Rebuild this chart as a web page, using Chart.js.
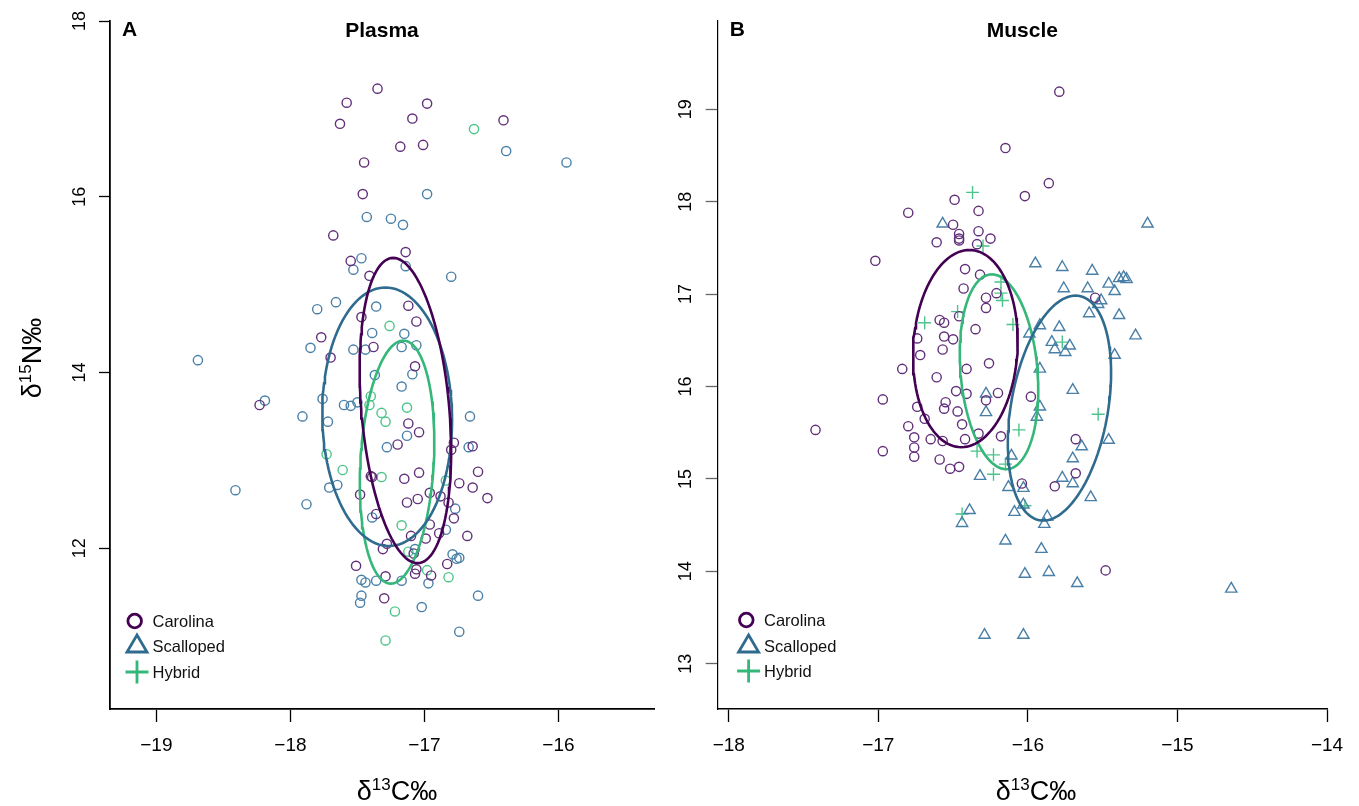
<!DOCTYPE html>
<html>
<head>
<meta charset="utf-8">
<script src="https://cdn.jsdelivr.net/npm/chart.js@4.4.1/dist/chart.umd.min.js"></script>
<style>
  html, body { margin: 0; padding: 0; background: #fff; }
  #wrap { position: relative; width: 1359px; height: 806px; }
  canvas { position: absolute; top: 0; }
  #cA { left: 0; }
  #cB { left: 660px; }
</style>
</head>
<body>
<div id="wrap">
  <canvas id="cA" width="660" height="806"></canvas>
  <canvas id="cB" width="699" height="806"></canvas>
</div>
<script>
// ---- data (d13C, d15N) ----
const plasmaCarolina = [[-17.35,17.23],[-17.58,17.07],[-16.98,17.06],[-17.09,16.89],[-17.63,16.83],[-16.41,16.87],[-17.18,16.57],[-17.01,16.59],[-17.45,16.39],[-17.46,16.03],[-17.68,15.56],[-17.14,15.37],[-17.55,15.27],[-17.41,15.10],[-17.12,14.76],[-17.47,14.63],[-17.06,14.58],[-17.77,14.40],[-17.38,14.29],[-17.70,14.17],[-17.07,14.07],[-18.23,13.63],[-17.12,13.42],[-17.04,13.32],[-17.20,13.18],[-16.78,13.20],[-16.80,13.12],[-16.64,13.16],[-17.40,12.82],[-17.39,12.81],[-17.15,12.79],[-17.04,12.86],[-16.60,12.87],[-16.74,12.74],[-16.64,12.69],[-16.53,12.57],[-17.48,12.61],[-17.13,12.52],[-17.05,12.56],[-16.96,12.63],[-16.88,12.59],[-16.82,12.52],[-16.78,12.34],[-17.36,12.39],[-16.96,12.27],[-16.89,12.17],[-16.68,12.14],[-17.10,12.14],[-16.99,12.11],[-17.28,12.05],[-17.31,11.99],[-17.08,11.94],[-16.83,11.82],[-17.51,11.80],[-17.06,11.76],[-17.29,11.68],[-17.07,11.71],[-16.95,11.69],[-17.30,11.43]];
const plasmaScalloped = [[-16.39,16.52],[-15.94,16.39],[-16.98,16.03],[-17.43,15.77],[-17.25,15.75],[-17.16,15.68],[-17.47,15.30],[-17.53,15.17],[-17.14,15.21],[-16.80,15.09],[-17.66,14.80],[-17.80,14.72],[-17.36,14.75],[-17.39,14.45],[-17.15,14.44],[-17.85,14.28],[-17.53,14.26],[-17.44,14.26],[-17.17,14.29],[-17.06,14.31],[-18.69,14.14],[-17.37,13.97],[-17.09,13.98],[-17.17,13.84],[-17.76,13.70],[-18.19,13.68],[-17.60,13.63],[-17.55,13.62],[-17.50,13.66],[-17.91,13.50],[-17.72,13.44],[-16.66,13.50],[-17.13,13.28],[-17.28,13.15],[-16.67,13.15],[-18.41,12.66],[-17.88,12.50],[-17.71,12.69],[-17.65,12.72],[-16.77,12.45],[-17.39,12.35],[-16.84,12.21],[-17.07,11.99],[-16.79,11.93],[-16.76,11.88],[-16.74,11.89],[-17.47,11.64],[-17.44,11.61],[-17.36,11.63],[-17.17,11.63],[-16.97,11.60],[-17.47,11.46],[-17.48,11.38],[-16.60,11.46],[-17.02,11.33],[-16.74,11.05]];
const plasmaHybrid = [[-16.63,16.77],[-17.26,14.53],[-17.40,13.73],[-17.41,13.63],[-17.13,13.60],[-17.32,13.54],[-17.29,13.44],[-17.73,13.07],[-17.61,12.89],[-17.32,12.81],[-16.84,12.77],[-17.17,12.26],[-17.12,11.96],[-16.98,11.75],[-16.82,11.67],[-17.22,11.28],[-17.29,10.95]];

const muscleCarolina = [[-15.79,19.19],[-16.15,18.58],[-15.86,18.20],[-16.02,18.06],[-16.49,18.02],[-16.80,17.88],[-16.33,17.90],[-16.50,17.75],[-16.46,17.65],[-16.46,17.60],[-16.46,17.58],[-16.33,17.68],[-16.25,17.60],[-16.61,17.56],[-16.34,17.54],[-17.02,17.36],[-16.42,17.27],[-16.32,17.21],[-16.43,17.06],[-16.21,17.01],[-16.28,16.96],[-16.28,16.85],[-15.55,16.96],[-16.46,16.76],[-16.59,16.72],[-16.56,16.69],[-16.35,16.62],[-16.74,16.52],[-16.56,16.54],[-16.50,16.51],[-16.57,16.40],[-16.72,16.34],[-16.26,16.25],[-16.84,16.19],[-16.41,16.19],[-16.61,16.10],[-16.97,15.86],[-16.48,15.95],[-16.41,15.92],[-16.28,15.85],[-16.20,15.93],[-15.98,15.89],[-16.55,15.83],[-16.74,15.78],[-16.56,15.76],[-16.47,15.73],[-16.69,15.65],[-16.44,15.59],[-16.80,15.57],[-17.42,15.53],[-16.76,15.45],[-16.65,15.43],[-16.57,15.41],[-16.42,15.43],[-16.33,15.49],[-16.18,15.46],[-15.68,15.43],[-16.97,15.30],[-16.76,15.34],[-16.76,15.24],[-16.59,15.21],[-16.52,15.11],[-16.46,15.13],[-15.68,15.06],[-15.82,14.92],[-16.04,14.95],[-15.48,14.01]];
const muscleScalloped = [[-16.57,17.76],[-15.20,17.76],[-15.95,17.33],[-15.77,17.29],[-15.57,17.25],[-15.39,17.17],[-15.36,17.18],[-15.34,17.16],[-15.76,17.06],[-15.60,17.06],[-15.46,17.11],[-15.42,17.03],[-15.51,16.93],[-15.53,16.89],[-15.59,16.79],[-15.39,16.77],[-15.92,16.66],[-15.79,16.64],[-15.99,16.57],[-15.28,16.55],[-15.84,16.48],[-15.72,16.44],[-15.82,16.40],[-15.75,16.37],[-15.42,16.34],[-15.92,16.19],[-16.28,15.92],[-15.70,15.96],[-16.28,15.72],[-15.92,15.78],[-15.94,15.67],[-15.64,15.35],[-15.46,15.42],[-16.11,15.25],[-15.70,15.22],[-16.32,15.03],[-15.77,15.01],[-16.13,14.91],[-16.03,14.90],[-15.70,14.95],[-15.58,14.80],[-16.03,14.72],[-16.39,14.66],[-16.44,14.52],[-16.09,14.64],[-15.89,14.51],[-15.87,14.59],[-16.15,14.33],[-15.91,14.24],[-16.02,13.97],[-15.86,13.99],[-15.67,13.87],[-14.64,13.81],[-16.29,13.31],[-16.03,13.31]];
const muscleHybrid = [[-16.37,18.10],[-16.30,17.52],[-16.18,17.13],[-16.18,17.01],[-16.17,16.93],[-16.47,16.81],[-16.69,16.69],[-16.10,16.67],[-15.77,16.48],[-16.06,15.53],[-15.53,15.70],[-16.34,15.30],[-16.23,15.26],[-16.15,15.16],[-16.23,15.05],[-16.02,14.71],[-16.44,14.62]];

// ellipses: [centre x, centre y, top-point offset x, top-point offset y, half width at centre]
const plasmaEllipseCarolina = [-17.142, 13.567, -0.091, 1.737, 0.329];
const plasmaEllipseScalloped = [-17.278, 13.496, -0.013, 1.471, 0.484];
const plasmaEllipseHybrid = [-17.204, 12.980, 0.047, 1.383, 0.274];
const muscleEllipseCarolina = [-16.418, 16.410, 0.027, 1.067, 0.349];
const muscleEllipseScalloped = [-15.789, 15.766, 0.108, 1.217, 0.328];
const muscleEllipseHybrid = [-16.193, 16.159, -0.048, 1.054, 0.258];

const plasmaXTicks = [-19, -18, -17, -16];
const plasmaYTicks = [12, 14, 16, 18];
const muscleXTicks = [-18, -17, -16, -15, -14];
const muscleYTicks = [13, 14, 15, 16, 17, 18, 19];
const groupNames = ["Carolina", "Scalloped", "Hybrid"];

// ---- styling ----
const FONT = '"Liberation Sans", Arial, Helvetica, sans-serif';
const lineCol = ["#440154", "#2f6b8e", "#35b779"];
const ptCol = ["#62307a", "#4a80a8", "#4cc48a"];

const toXY = arr => arr.map(p => ({ x: p[0], y: p[1] }));
const fmt = v => (v < 0 ? "\u2212" + Math.abs(v) : String(v));

function ellipse(p) {
  const pts = [];
  for (let i = 0; i <= 120; i++) {
    const t = (i / 120) * 2 * Math.PI;
    pts.push({ x: p[0] + p[2] * Math.cos(t) + p[4] * Math.sin(t), y: p[1] + p[3] * Math.cos(t) });
  }
  return pts;
}

function ellipseSet(p, col) {
  return { data: ellipse(p), showLine: true, pointRadius: 0, borderColor: col, borderWidth: 2.6, fill: false, tension: 0 };
}

function pointSet(arr, col, style, r) {
  return {
    data: toXY(arr), showLine: false, pointStyle: style, pointRadius: r, pointHoverRadius: r,
    pointBorderColor: col, pointBackgroundColor: "rgba(0,0,0,0)", pointBorderWidth: 1.4
  };
}

function axis(min, max, ticks, o) {
  return {
    type: "linear", min: min, max: max,
    afterBuildTicks: s => { s.ticks = ticks.map(v => ({ value: v })); },
    afterFit: s => { if (o.w != null) s.width = o.w; if (o.h != null) s.height = o.h; },
    grid: { display: true, drawOnChartArea: false, drawTicks: true, tickLength: o.tl, tickColor: o.tc, tickWidth: o.tw },
    border: { display: true, color: "#000", width: o.bw },
    ticks: {
      autoSkip: false, color: "#000", font: { family: FONT, size: o.fs || 18 }, padding: o.pad,
      minRotation: o.rot || 0, maxRotation: o.rot || 0, crossAlign: o.rot ? "center" : "near",
      callback: v => fmt(v)
    }
  };
}

// axis titles with superscript, legend, panel titles
function drawSup(ctx, parts, cx, base) {
  const big = "27px " + FONT, small = "17px " + FONT;
  ctx.font = big; const w0 = ctx.measureText(parts[0]).width, w2 = ctx.measureText(parts[2]).width;
  ctx.font = small; const w1 = ctx.measureText(parts[1]).width;
  let x = cx - (w0 + w1 + w2) / 2;
  ctx.textAlign = "left"; ctx.textBaseline = "alphabetic";
  ctx.font = big; ctx.fillText(parts[0], x, base); x += w0;
  ctx.font = small; ctx.fillText(parts[1], x, base - 10); x += w1;
  ctx.font = big; ctx.fillText(parts[2], x, base);
}

const decor = {
  id: "decor",
  afterDraw(chart, args, o) {
    const ctx = chart.ctx, a = chart.chartArea;
    ctx.save();
    ctx.fillStyle = "#000";
    ctx.font = "bold 21px " + FONT;
    ctx.textBaseline = "middle";
    ctx.textAlign = "left";
    ctx.fillText(o.letter, a.left + o.letterDx, 30);
    ctx.textAlign = "center";
    ctx.fillText(o.title, (a.left + a.right) / 2, 31);

    drawSup(ctx, ["\u03b4", "13", "C\u2030"], o.xTitleX, 800);
    if (o.yTitle) {
      ctx.save();
      ctx.translate(o.yTitleBase, o.yTitleY);
      ctx.rotate(-Math.PI / 2);
      drawSup(ctx, ["\u03b4", "15", "N\u2030"], 0, 0);
      ctx.restore();
    }

    // legend
    const lx = o.legX, ys = o.legY;
    ctx.lineWidth = 2.8;
    ctx.strokeStyle = lineCol[0];
    ctx.beginPath(); ctx.arc(lx - 2.3, ys[0], 6.8, 0, 2 * Math.PI); ctx.stroke();
    ctx.strokeStyle = lineCol[1];
    ctx.beginPath(); ctx.moveTo(lx, ys[1] - 11); ctx.lineTo(lx + 10, ys[1] + 6); ctx.lineTo(lx - 10, ys[1] + 6); ctx.closePath(); ctx.stroke();
    ctx.strokeStyle = lineCol[2];
    ctx.beginPath(); ctx.moveTo(lx - 11.5, ys[2]); ctx.lineTo(lx + 11.5, ys[2]); ctx.moveTo(lx, ys[2] - 11.5); ctx.lineTo(lx, ys[2] + 11.5); ctx.stroke();
    ctx.fillStyle = "#111";
    ctx.font = "16.5px " + FONT;
    ctx.textAlign = "left"; ctx.textBaseline = "middle";
    groupNames.forEach((n, i) => ctx.fillText(n, o.legTextX, ys[i] + 1));
    ctx.restore();
  }
};

// ---- Panel A: plasma ----
new Chart(document.getElementById("cA"), {
  type: "scatter",
  data: {
    datasets: [
      ellipseSet(plasmaEllipseCarolina, lineCol[0]),
      ellipseSet(plasmaEllipseScalloped, lineCol[1]),
      ellipseSet(plasmaEllipseHybrid, lineCol[2]),
      pointSet(plasmaCarolina, ptCol[0], "circle", 4.6),
      pointSet(plasmaScalloped, ptCol[1], "circle", 4.6),
      pointSet(plasmaHybrid, ptCol[2], "circle", 4.6)
    ]
  },
  options: {
    responsive: false, animation: false, events: [],
    layout: { padding: { left: 0, top: 21, right: 6, bottom: 0 } },
    plugins: {
      legend: { display: false }, tooltip: { enabled: false },
      decor: { letter: "A", letterDx: 12, title: "Plasma", xTitleX: 397, yTitle: true, yTitleBase: 41, yTitleY: 358,
               legX: 137, legY: [621, 646, 672], legTextX: 152.5 }
    },
    scales: {
      x: axis(-19.346, -15.287, plasmaXTicks, { h: 97, tl: 13, tc: "#000", tw: 1.3, bw: 1.8, pad: 12, fs: 19 }),
      y: axis(10.17, 18, plasmaYTicks, { w: 110, tl: 11, tc: "#000", tw: 1.3, bw: 1.8, pad: 9, rot: 90 })
    }
  },
  plugins: [decor]
});

// ---- Panel B: muscle ----
new Chart(document.getElementById("cB"), {
  type: "scatter",
  data: {
    datasets: [
      ellipseSet(muscleEllipseCarolina, lineCol[0]),
      ellipseSet(muscleEllipseScalloped, lineCol[1]),
      ellipseSet(muscleEllipseHybrid, lineCol[2]),
      pointSet(muscleCarolina, ptCol[0], "circle", 4.6),
      pointSet(muscleScalloped, ptCol[1], "triangle", 6.5),
      pointSet(muscleHybrid, ptCol[2], "cross", 6.5)
    ]
  },
  options: {
    responsive: false, animation: false, events: [],
    layout: { padding: { left: 0, top: 20, right: 32, bottom: 0 } },
    plugins: {
      legend: { display: false }, tooltip: { enabled: false },
      decor: { letter: "B", letterDx: 12, title: "Muscle", xTitleX: 376, yTitle: false,
               legX: 88.6, legY: [620, 646, 671], legTextX: 104 }
    },
    scales: {
      x: axis(-18.074, -14, muscleXTicks, { h: 97, tl: 13, tc: "#000", tw: 1.3, bw: 1.6, pad: 12, fs: 19 }),
      y: axis(12.51, 19.96, muscleYTicks, { w: 57.7, tl: 12, tc: "#666", tw: 1.3, bw: 1.2, pad: 9.7, rot: 90 })
    }
  },
  plugins: [decor]
});
</script>
</body>
</html>
